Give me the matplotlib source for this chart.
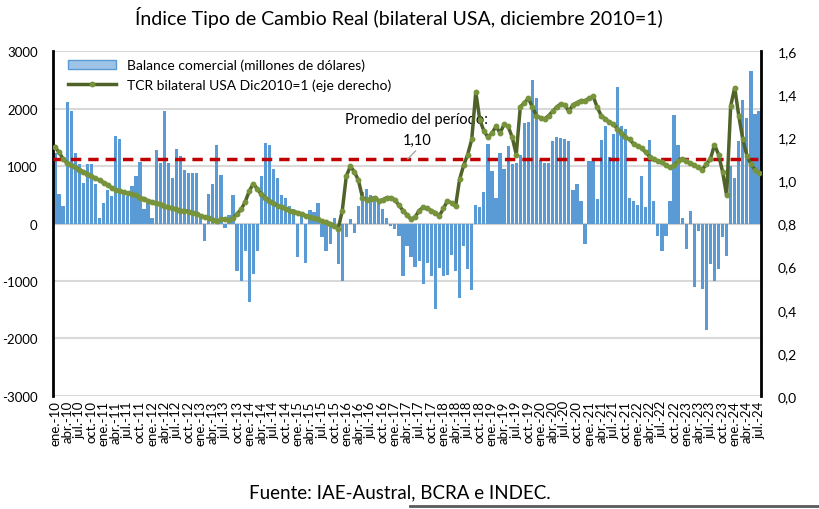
import numpy as np
import matplotlib
matplotlib.use('Agg')
import matplotlib.pyplot as plt
from matplotlib.lines import Line2D
from matplotlib.patches import Patch

plt.rcParams['font.family'] = ['Lato', 'DejaVu Sans']
plt.rcParams['axes.unicode_minus'] = False

# periodos mensuales ene-10 .. jul-24
meses = ['ene.', 'feb.', 'mar.', 'abr.', 'may.', 'jun.', 'jul.', 'ago.', 'sep.', 'oct.', 'nov.', 'dic.']
anios = ['10', '11', '12', '13', '14', '15', '16', '17', '18', '19', '20', '21', '22', '23', '24']
periodos = [m + '-' + a for a in anios for m in meses][:175]

# balance comercial (millones de dolares)
balance = [
    1230, 520, 300, 2120, 1950, 1230, 1040, 710, 1040, 1040, 680, 100,          # 2010
    365, 590, 480, 1530, 1470, 540, 480, 660, 830, 1070, 250, 430,              # 2011
    100, 1280, 1060, 1960, 1060, 800, 1300, 1180, 930, 870, 870, 870,           # 2012
    150, -300, 520, 690, 1360, 850, -70, 150, 500, -820, -1000, -470,           # 2013
    -1370, -880, -480, 830, 1400, 1370, 940, 800, 500, 450, 300, 250,           # 2014
    -590, 150, -680, 240, 200, 350, -240, -470, -350, 100, -700, -1000,         # 2015
    -240, 80, -170, 300, 550, 600, 500, 450, 350, 250, 100, -50,                # 2016
    -100, -220, -920, -400, -580, -750, -650, -1060, -690, -920, -1490, -770,   # 2017
    -920, -890, -540, -820, -1290, -390, -800, -1150, 330, 280, 540, 1390,      # 2018
    920, 450, 1230, 940, 1350, 1040, 1050, 1200, 1750, 1760, 2490, 2190,        # 2019
    1100, 1050, 1050, 1440, 1500, 1480, 1470, 1440, 590, 680, 400, -360,        # 2020
    1080, 1080, 420, 1460, 1690, 1150, 1550, 2370, 1700, 1640, 440, 400,        # 2021
    330, 830, 280, 1460, 400, -210, -470, -210, 400, 1890, 1370, 100,           # 2022
    -450, 220, -1110, -130, -1140, -1860, -710, -1000, -800, -240, -560, 1000,  # 2023
    800, 1430, 2140, 1830, 2660, 1900, 1950,                                    # 2024
]

# TCR bilateral USA (dic 2010 = 1)
tcr = [
    1.155, 1.13, 1.10, 1.08, 1.07, 1.06, 1.05, 1.04, 1.03, 1.02, 1.01, 1.00,
    0.99, 0.98, 0.965, 0.955, 0.95, 0.945, 0.94, 0.935, 0.93, 0.92, 0.915, 0.905,
    0.90, 0.895, 0.89, 0.88, 0.875, 0.87, 0.865, 0.86, 0.86, 0.855, 0.85, 0.845,
    0.835, 0.83, 0.825, 0.815, 0.81, 0.82, 0.82, 0.815, 0.825, 0.845, 0.865, 0.90,
    0.95, 0.985, 0.96, 0.935, 0.92, 0.905, 0.895, 0.88, 0.875, 0.865, 0.86, 0.855,
    0.85, 0.845, 0.835, 0.83, 0.825, 0.82, 0.81, 0.805, 0.80, 0.79, 0.775, 0.86,
    1.02, 1.065, 1.04, 1.00, 0.92, 0.91, 0.915, 0.92, 0.905, 0.91, 0.92, 0.92,
    0.91, 0.885, 0.86, 0.84, 0.82, 0.83, 0.86, 0.875, 0.87, 0.86, 0.85, 0.835,
    0.87, 0.905, 0.895, 0.88, 1.005, 1.07, 1.12, 1.19, 1.41, 1.28, 1.23, 1.20,
    1.22, 1.25, 1.22, 1.26, 1.25, 1.20, 1.12, 1.34, 1.36, 1.38, 1.34, 1.30,
    1.29, 1.285, 1.30, 1.32, 1.34, 1.355, 1.35, 1.32, 1.35, 1.36, 1.37, 1.37,
    1.38, 1.39, 1.34, 1.30, 1.285, 1.27, 1.26, 1.24, 1.22, 1.20, 1.19, 1.17,
    1.16, 1.15, 1.13, 1.11, 1.10, 1.09, 1.085, 1.07, 1.06, 1.07, 1.09, 1.10,
    1.09, 1.08, 1.07, 1.06, 1.05, 1.075, 1.10, 1.165, 1.12, 1.04, 0.93, 1.345,
    1.43, 1.30, 1.19, 1.115, 1.075, 1.05, 1.035,
]

promedio = 1.10

x = np.arange(len(periodos))

fig = plt.figure(figsize=(8.19, 5.10), dpi=100)
ax = fig.add_axes([0.0647, 0.2216, 0.8645, 0.6764])

ax.bar(x, balance, width=0.8, color='#5B9BD5', zorder=2)
ax.axhline(0, color='#D0D0D0', lw=1.5, zorder=1)
ax.set_xlim(-0.5, len(x) - 0.5)
ax.set_ylim(-3000, 3000)
ax.set_yticks(range(-3000, 3001, 1000))
ax.yaxis.grid(True, color='#D9D9D9', lw=1.5)
ax.set_axisbelow(True)
ax.set_xticks(x[::3])
ax.set_xticklabels(periodos[::3], rotation=90, fontsize=9.5)
ax.tick_params(axis='x', length=0, pad=3)
ax.tick_params(axis='y', length=0, labelsize=9.5, pad=11)
for s in ['top', 'bottom']:
    ax.spines[s].set_visible(False)
ax.spines['left'].set_linewidth(2)
ax.spines['right'].set_visible(False)

ax2 = ax.twinx()
ax2.axhline(promedio, color='#C00000', ls=(0, (3, 2)), lw=2.5, zorder=3)
ax2.plot(x, tcr, color='#4F6228', lw=2.5, marker='o', ms=3.2,
         mfc='#77933C', mec='#77933C', zorder=4)
ax2.set_ylim(0, 1.6)
ax2.set_yticks(np.arange(0, 1.61, 0.2))
ax2.set_yticklabels([f'{v:.1f}'.replace('.', ',') for v in np.arange(0, 1.61, 0.2)])
ax2.tick_params(axis='y', length=0, labelsize=10, pad=12)
for s in ['top', 'bottom', 'left']:
    ax2.spines[s].set_visible(False)
ax2.spines['right'].set_linewidth(2)

# anotacion del promedio
ax2.text(89.4, 1.285, 'Promedio del período:', ha='center', va='center', fontsize=10.5)
ax2.text(89.4, 1.19, '1,10', ha='center', va='center', fontsize=10.5)
ax2.plot([89.1, 87.2], [1.136, 1.10], color='#A6A6A6', lw=1, zorder=5)

handles = [Patch(facecolor='#9DC3E6', edgecolor='#5B9BD5'),
           Line2D([], [], color='#4F6228', lw=2.5, marker='o', ms=3.2,
                  mfc='#77933C', mec='#77933C')]
leg = ax2.legend(handles, ['Balance comercial (millones de dólares)',
                           'TCR bilateral USA Dic2010=1 (eje derecho)'],
                 loc='upper left', bbox_to_anchor=(0.005, 1.01), fontsize=10,
                 frameon=True, facecolor='white', edgecolor='none', framealpha=1,
                 borderpad=0.3, handlelength=3.5, labelspacing=0.5, fancybox=False)
leg.set_zorder(6)

fig.text(0.487, 0.965, 'Índice Tipo de Cambio Real (bilateral USA, diciembre 2010=1)',
         ha='center', va='center', fontsize=14)
fig.text(0.488, 0.033, 'Fuente: IAE-Austral, BCRA e INDEC.', ha='center', va='center',
         fontsize=13.5)
fig.add_artist(Line2D([0.5, 1.0], [0.006, 0.006], color='#595959', lw=2))

fig.savefig('out.png', dpi=100)
